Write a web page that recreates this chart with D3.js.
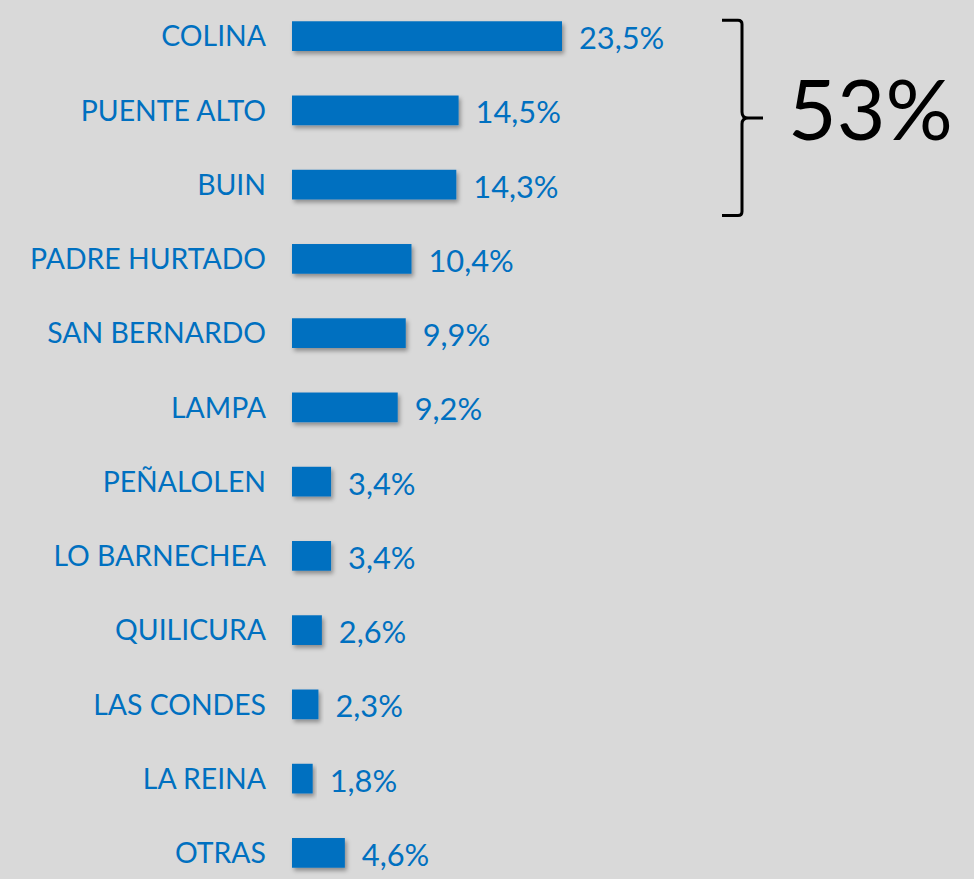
<!DOCTYPE html>
<html>
<head>
<meta charset="utf-8">
<script src="https://cdn.jsdelivr.net/npm/d3@7"></script>
<style>
  body { margin: 0; background: #d9d9d9; }
  svg { display: block; }
  .cat { font-family: Lato, sans-serif; font-size: 28.4px; fill: #0070c0; }
  .val { font-family: Lato, sans-serif; font-size: 30.8px; fill: #0070c0; }
  .total { font-family: Lato, sans-serif; font-size: 84px; fill: #000; }
</style>
</head>
<body>
<div id="chart"></div>
<script>
const comunas = ['COLINA', 'PUENTE ALTO', 'BUIN', 'PADRE HURTADO', 'SAN BERNARDO', 'LAMPA',
  'PEÑALOLEN', 'LO BARNECHEA', 'QUILICURA', 'LAS CONDES', 'LA REINA', 'OTRAS'];
const shares = [23.5, 14.5, 14.3, 10.4, 9.9, 9.2, 3.4, 3.4, 2.6, 2.3, 1.8, 4.6];
const topGroup = ['COLINA', 'PUENTE ALTO', 'BUIN'];
const topLabel = '53%';

const width = 974, height = 879;
const margin = { left: 292, top: 0 };

const svg = d3.select('#chart').append('svg')
  .attr('width', width)
  .attr('height', height);

// sombra suave de las barras
const filter = svg.append('defs').append('filter')
  .attr('id', 'shadow')
  .attr('x', '-10%').attr('y', '-30%')
  .attr('width', '130%').attr('height', '180%');
filter.append('feDropShadow')
  .attr('dx', 2).attr('dy', 3)
  .attr('stdDeviation', 2)
  .attr('flood-color', '#000')
  .attr('flood-opacity', 0.35);

const x = d3.scaleLinear()
  .domain([0, 23.5])
  .range([0, 270]);

const y = d3.scaleBand()
  .domain(comunas)
  .range([-1, 890])
  .paddingInner(0.6)
  .paddingOuter(0.3);

const fmt = d => d3.format('.1f')(d).replace('.', ',') + '%';

const row = svg.selectAll('g.row')
  .data(comunas)
  .enter()
  .append('g')
    .attr('class', 'row')
    .attr('transform', d => 'translate(0,' + y(d) + ')');

row.append('rect')
  .attr('x', margin.left)
  .attr('width', (d, i) => x(shares[i]))
  .attr('height', y.bandwidth())
  .attr('fill', '#0070c0')
  .attr('filter', 'url(#shadow)');

row.append('text')
  .attr('class', 'cat')
  .attr('x', margin.left - 26)
  .attr('y', y.bandwidth() / 2)
  .attr('dy', '0.36em')
  .attr('text-anchor', 'end')
  .text(d => d);

row.append('text')
  .attr('class', 'val')
  .attr('x', (d, i) => margin.left + x(shares[i]) + 17)
  .attr('y', y.bandwidth() / 2 + 2)
  .attr('dy', '0.36em')
  .text((d, i) => fmt(shares[i]));

// llave para los tres primeros
const y0 = y(topGroup[0]) - 1;
const y1 = y(topGroup[topGroup.length - 1]) + y.bandwidth() + 16;
const ym = (y0 + y1) / 2;
const bx = 742;
const brace = d3.path();
brace.moveTo(bx - 20, y0);
brace.lineTo(bx - 4, y0);
brace.quadraticCurveTo(bx, y0, bx, y0 + 4);
brace.lineTo(bx, ym - 6);
brace.quadraticCurveTo(bx, ym, bx + 6, ym);
brace.lineTo(bx + 21, ym);
brace.moveTo(bx + 6, ym);
brace.quadraticCurveTo(bx, ym, bx, ym + 6);
brace.lineTo(bx, y1 - 4);
brace.quadraticCurveTo(bx, y1, bx - 4, y1);
brace.lineTo(bx - 20, y1);

svg.append('path')
  .attr('d', brace.toString())
  .attr('fill', 'none')
  .attr('stroke', '#000')
  .attr('stroke-width', 3);

svg.append('text')
  .attr('class', 'total')
  .attr('x', 788)
  .attr('y', ym + 22)
  .text(topLabel);
</script>
</body>
</html>
